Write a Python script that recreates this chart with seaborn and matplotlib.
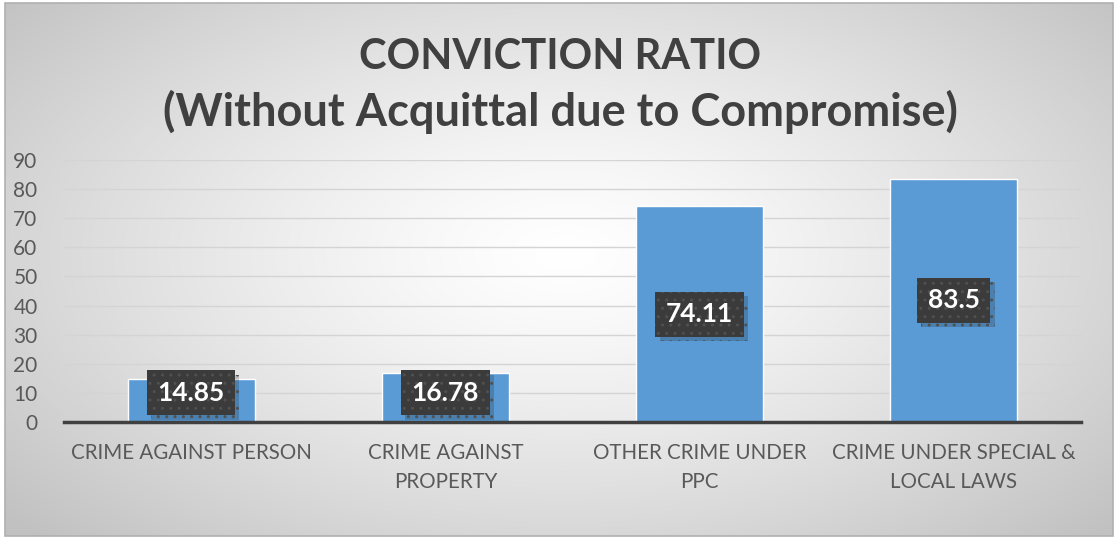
import numpy as np
import pandas as pd
import matplotlib
matplotlib.use("Agg")
import matplotlib.pyplot as plt
import matplotlib.patheffects as pe
from matplotlib.patches import Rectangle
import seaborn as sns

categories = ["CRIME AGAINST PERSON", "CRIME AGAINST\nPROPERTY",
              "OTHER CRIME UNDER\nPPC", "CRIME UNDER SPECIAL &\nLOCAL LAWS"]
values = [14.85, 16.78, 74.11, 83.5]
value_labels = ["14.85", "16.78", "74.11", "83.5"]
yticks = [0, 10, 20, 30, 40, 50, 60, 70, 80, 90]
title_lines = ["CONVICTION RATIO", "(Without Acquittal due to Compromise)"]

sns.set_theme(style="white")
plt.rcParams['font.family'] = ['Lato', 'DejaVu Sans']

W, H = 1119, 539
fig = plt.figure(figsize=(W / 100, H / 100), dpi=100)
fig.patch.set_facecolor("white")

# radial gradient background
bg = fig.add_axes([5 / W, 3 / H, 1108 / W, 533 / H])
yy, xx = np.mgrid[0:533, 0:1108]
cx, cy = 560, 250
d = np.sqrt(((xx - cx) / 620.0) ** 2 + ((yy - cy) / 330.0) ** 2)
d = np.clip(d, 0, 1.2) / 1.2
g = 1.0 - 0.24 * d ** 1.3
img = np.dstack([g, g, g])
bg.imshow(img, aspect="auto", interpolation="bilinear")
bg.set_axis_off()
fig.patches.append(Rectangle((5 / W, 3 / H), 1108 / W, 533 / H, transform=fig.transFigure,
                             fill=False, edgecolor="#b0b0b0", linewidth=1.2, zorder=5))

ax = fig.add_axes([64 / W, 1 - 422 / H, (1081 - 64) / W, (422 - 160) / H])
ax.patch.set_alpha(0)
df = pd.DataFrame({"cat": categories, "val": values})
sns.barplot(data=df, x="cat", y="val", color="#5B9BD5", saturation=1, width=0.5, ax=ax, zorder=2)

ax.set_xlim(-0.5, 3.5)
ax.set_ylim(0, 90)
ax.set_yticks(yticks)
ax.set_yticklabels([str(t) for t in yticks], fontsize=15, color="#595959")
ax.set_xticks(range(len(categories)))
ax.set_xticklabels(categories, fontsize=14.8, color="#595959", linespacing=1.55)
ax.set_xticks([-0.5, 0.5, 1.5, 2.5, 3.5], minor=True)
ax.tick_params(axis="x", which="major", length=0, pad=15)
ax.tick_params(axis="x", which="minor", length=8, width=2.5, color="#404040", direction="out")
ax.tick_params(axis="y", length=0, pad=19)
ax.set_xlabel("")
ax.set_ylabel("")
ax.yaxis.grid(True, color="#d4d4d4", linewidth=1, zorder=0)
ax.set_axisbelow(True)
for s in ["top", "right", "left"]:
    ax.spines[s].set_visible(False)
ax.spines["bottom"].set_color("#404040")
ax.spines["bottom"].set_linewidth(2.5)
ax.spines["bottom"].set_zorder(4)

for i, (v, lab) in enumerate(zip(values, value_labels)):
    y = max(v / 2, 10)
    t = ax.text(i, y, lab, ha="center", va="center", fontsize=19, fontweight="bold", color="white",
                zorder=6,
                bbox=dict(boxstyle="square,pad=0.4", facecolor="#3b3b3b", edgecolor="#505050",
                          linewidth=0, hatch=".."))
    t.get_bbox_patch().set_path_effects([
        pe.SimplePatchShadow(offset=(3, -3), shadow_rgbFace="#000000", alpha=0.18),
        pe.Normal()])

fig.text(560 / W, 1 - 57 / H, title_lines[0], ha="center", va="center", fontsize=30,
         fontweight="bold", color="#404040")
fig.text(560 / W, 1 - 112 / H, title_lines[1], ha="center", va="center", fontsize=32.5,
         fontweight="bold", color="#404040")

fig.savefig("out.png", dpi=100)
